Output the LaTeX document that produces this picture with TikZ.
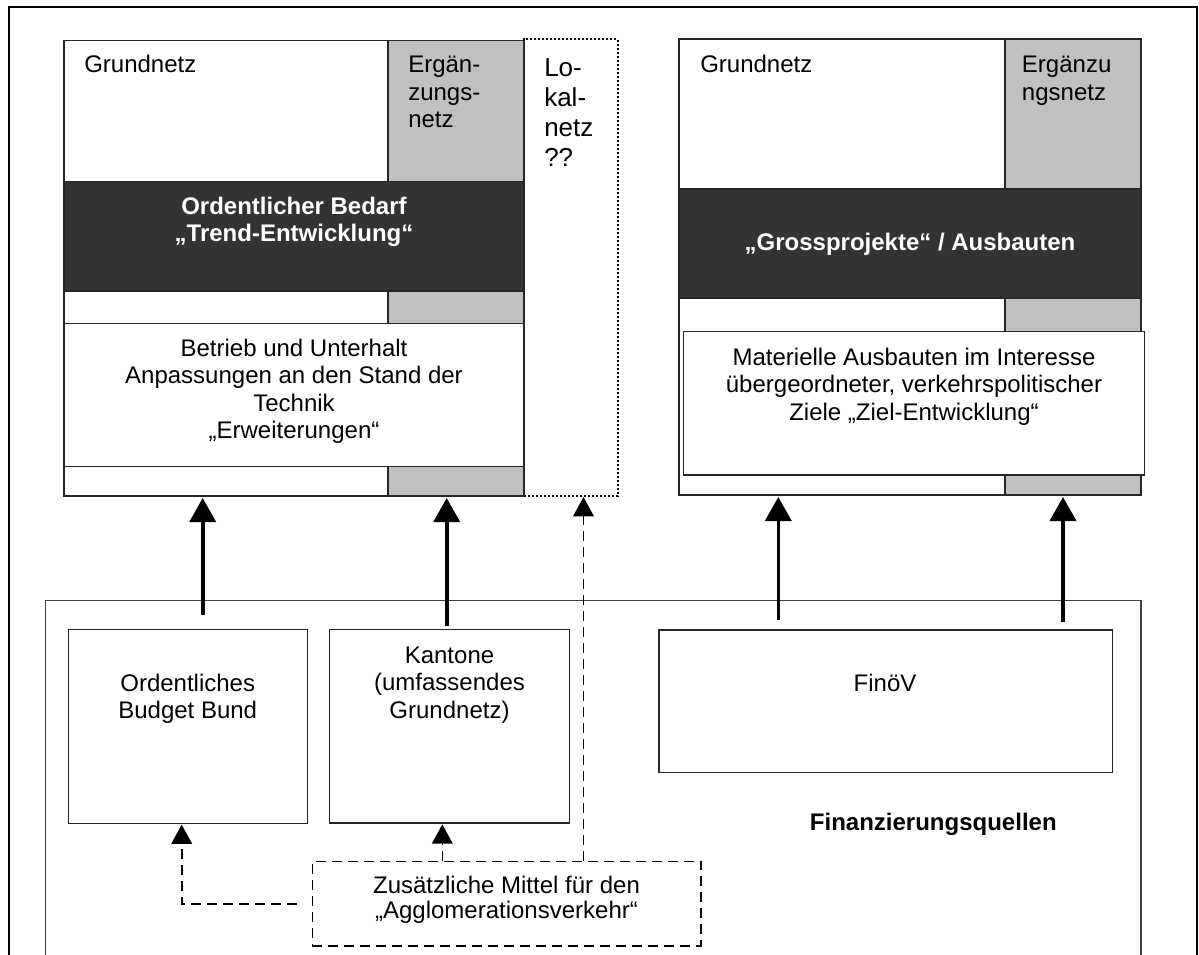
\documentclass[tikz,border=0pt]{standalone}
\usepackage{fontspec}
\setmainfont{Liberation Sans}
\usetikzlibrary{arrows.meta,fit}
\definecolor{ergray}{RGB}{192,192,192}
\definecolor{bandgray}{RGB}{51,51,51}
\newcommand\fl{\rule{0pt}{1em}}
\begin{document}
\begin{tikzpicture}[x=0.75pt,y=-0.75pt,
  frame/.style={draw=black,line width=1.6pt},
  blk/.style={draw=black!85,line width=1pt,inner sep=0pt,outer sep=0pt},
  finbox/.style={draw=black!75,line width=0.9pt},
  dotbox/.style={draw=black,line width=1.3pt,dash pattern=on 1.5pt off 1.5pt,inner sep=0pt,outer sep=0pt},
  dashbox/.style={draw=black,line width=1.2pt,dash pattern=on 7.5pt off 4.5pt,inner sep=0pt,outer sep=0pt},
  txt/.style={inner sep=0pt,font=\fontsize{18pt}{20.6pt}\selectfont},
  txtb/.style={inner sep=0pt,text=white,font=\fontsize{18pt}{20.6pt}\selectfont\bfseries},
  txtl/.style={inner sep=0pt,font=\fontsize{19.5pt}{22.5pt}\selectfont},
  bigarrow/.style={line width=2.7pt,-{Triangle[width=19.5pt,length=18pt]},shorten >=1.5pt},
  dasharrow/.style={line width=1.2pt,dash pattern=on 7.5pt off 4.5pt,-{Triangle[width=15.5pt,length=14.5pt]},shorten >=1pt}
]
\useasboundingbox (0,0) rectangle (1199,954);
\clip (0,0) rectangle (1199,954);

% outer frame
\draw[frame] (9,1000) -- (9,6.7) -- (1197,6.7) -- (1197,1000);

% ---------- left block ----------
\node[blk,fill=white,fit={(64,40.7)(388,496)}] (lgrund) {};
\node[blk,fill=ergray,fit={(388,40.7)(524,496)}] (lerg) {};
\node[blk,fill=bandgray,fit={(64,181.7)(524,291)}] (lband) {};
\node[blk,fill=white,fit={(64,323.3)(524,466.7)}] (lbetrieb) {};
\node[dotbox,fit={(524,39.3)(618,495.7)}] (lokal) {};
\draw[blk] (388,40.7) -- (388,181.7) (388,291) -- (388,323.3) (388,466.7) -- (388,496);
\draw[blk] (524,40.7) -- (524,496);

\node[txt,anchor=base west] (tgl) at (84,72.5) {Grundnetz};
\node[txt,anchor=north west,align=left] (tel) at (408,48.5) {\fl Ergän-\\zungs-\\netz};
\node[txtl,anchor=north west,align=left] (tlok) at (544,50) {\fl Lo-\\kal-\\netz\\??};
\node[txtb,anchor=north,align=center] (tob) at (294,190) {\fl Ordentlicher Bedarf\\„Trend-Entwicklung“};
\node[txt,anchor=north,align=center] (tbu) at (294,332) {\fl Betrieb und Unterhalt\\Anpassungen an den Stand der\\Technik\\„Erweiterungen“};

% ---------- right block ----------
\node[blk,fill=white,fit={(679,39)(1005,495)}] (rgrund) {};
\node[blk,fill=ergray,fit={(1005,39)(1141,495)}] (rerg) {};
\node[blk,fill=bandgray,fit={(679,189)(1141,298)}] (rband) {};
\node[blk,fill=white,fit={(683.7,331.7)(1144.3,475)}] (rmat) {};

\node[txt,anchor=base west] (tgr) at (700,72.5) {Grundnetz};
\node[txt,anchor=north west,align=left] (ter) at (1021.7,48.5) {\fl Ergänzu\\ngsnetz};
\node[txtb,anchor=base] (tgp) at (910,250) {„Grossprojekte“ / Ausbauten};
\node[txt,anchor=north,align=center] (tmat) at (914,341) {\fl Materielle Ausbauten im Interesse\\übergeordneter, verkehrspolitischer\\Ziele „Ziel-Entwicklung“};

% ---------- financing sources ----------
\draw[finbox] (45.3,1000) -- (45.3,600.3) -- (1141,600.3) -- (1141,1000);
\node[blk,fit={(68.3,629.7)(307.3,823.3)}] (budget) {};
\node[blk,fit={(329.7,629.3)(569.3,823)}] (kantone) {};
\node[blk,fit={(659,630)(1112.3,772.5)}] (finov) {};
\node[dashbox,fit={(312.3,861.3)(701,945.7)}] (zusatz) {};

\node[txt,anchor=north,align=center] (tbud) at (187.7,667) {\fl Ordentliches\\Budget Bund};
\node[txt,anchor=north,align=center] (tkan) at (449.5,639) {\fl Kantone\\(umfassendes\\Grundnetz)};
\node[txt,anchor=base] (tfin) at (885,691) {FinöV};
\node[txt,anchor=base,font=\fontsize{18pt}{20.6pt}\selectfont\bfseries] (tquel) at (933.3,830) {Finanzierungsquellen};
\node[inner sep=0pt,anchor=north,align=center,font=\fontsize{18pt}{18.75pt}\selectfont] (tzus) at (506.5,869) {\fl Zusätzliche Mittel für den\\„Agglomerationsverkehr“};

% ---------- connectors ----------
\coordinate (s1) at (202.7,615);
\coordinate (s2) at (446.7,625.7);
\coordinate (s3) at (778.3,620);
\coordinate (s4) at (1063,622);
\draw[bigarrow] (s1) -- (s1 |- lgrund.south);
\draw[bigarrow] (s2) -- (s2 |- lerg.south);
\draw[bigarrow] (s3) -- (s3 |- rgrund.south);
\draw[bigarrow] (s4) -- (s4 |- rerg.south);

\coordinate (zl) at (583.5,700);
\draw[dasharrow] (zl |- zusatz.north) -- (zl |- lokal.south);
\coordinate (zk) at (442.3,840);
\draw[dasharrow] (zk |- zusatz.north) -- (zk |- kantone.south);
\coordinate (zb) at (297,904);
\coordinate (zbc) at (181.7,904);
\draw[dasharrow] (zb) -- (zbc) -- (zbc |- budget.south);
\end{tikzpicture}
\end{document}
